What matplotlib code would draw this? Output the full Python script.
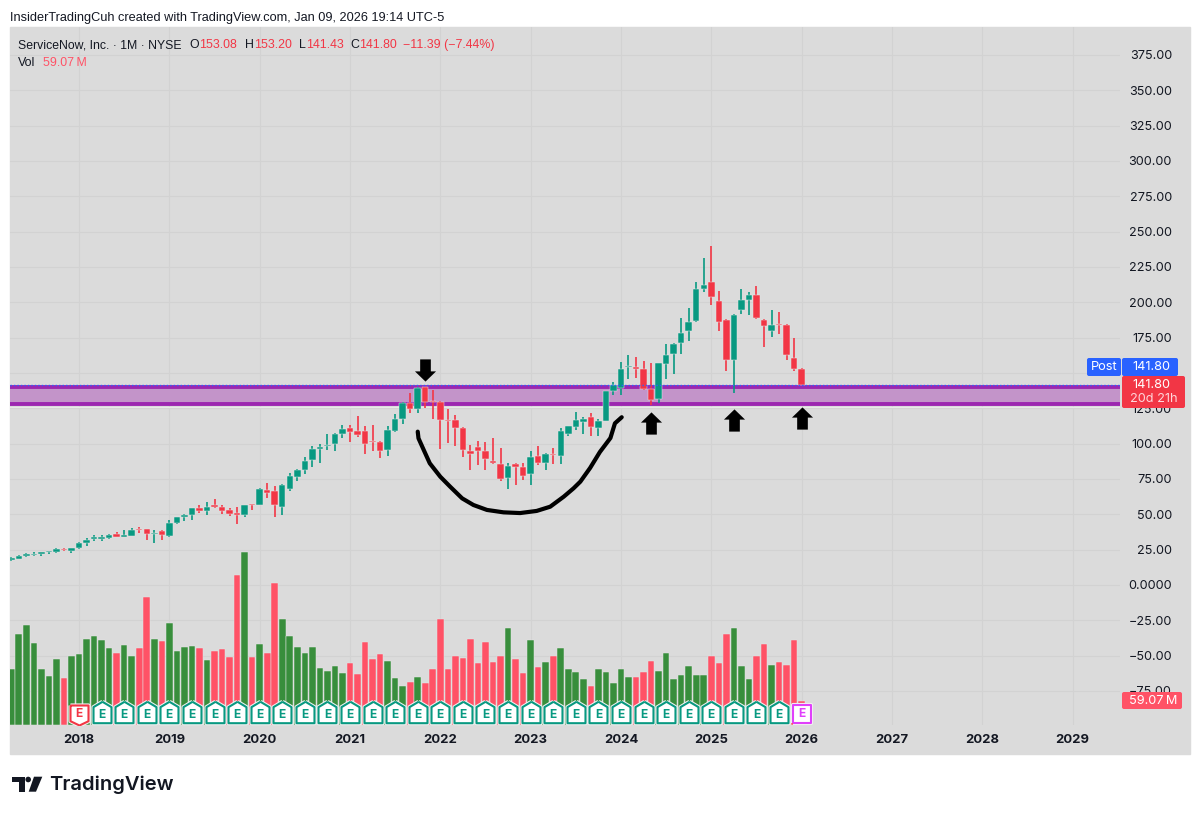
import numpy as np
import matplotlib
matplotlib.use("Agg")
import matplotlib.pyplot as plt
from matplotlib.patches import Rectangle, FancyBboxPatch, Polygon, Circle
from matplotlib.path import Path

plt.rcParams['font.family'] = ['Inter', 'DejaVu Sans']

# Monthly candles, Apr 2017 to Jan 2026
opens = [17.4, 18.4, 20.8, 21.2, 21.9, 23.1, 23.3, 25.5, 24.3, 26.0, 30.0, 32.5, 32.8, 33.0, 36.1, 34.2, 34.9, 39.4,
         39.4, 36.3, 38.4, 34.7, 43.6, 48.3, 49.8, 54.5, 52.4, 56.4, 55.2, 52.8, 50.7, 49.5, 57.1, 56.8, 67.2, 66.7,
         55.0, 67.9, 76.6, 81.1, 88.4, 96.5, 98.1, 99.5, 107.1, 111.3, 109.0, 108.7, 101.9, 101.2, 95.3, 109.0, 117.2,
         129.0, 124.5, 139.9, 130.4, 129.5, 117.0, 116.5, 111.3, 94.6, 97.9, 94.8, 87.5, 85.6, 75.7, 85.4, 83.3, 78.8,
         91.0, 86.3, 92.7, 91.0, 106.8, 111.8, 115.3, 118.6, 110.8, 116.0, 137.0, 139.1, 154.0, 154.2, 152.6, 138.7,
         131.8, 156.6, 163.4, 171.0, 179.7, 187.0, 209.4, 214.4, 201.2, 187.3, 159.4, 194.6, 201.4, 205.2, 187.3,
         180.0, 184.4, 184.2, 160.4, 153.08]
highs = [19.6, 21.0, 22.4, 23.1, 23.6, 24.0, 26.0, 26.0, 26.4, 30.2, 33.0, 35.4, 35.1, 36.3, 37.5, 38.9, 40.1, 41.3,
         39.6, 38.7, 38.7, 45.8, 48.3, 50.5, 54.7, 56.4, 58.7, 60.8, 56.4, 54.5, 55.4, 56.6, 57.6, 68.4, 72.4, 70.0,
         71.5, 79.0, 81.8, 90.3, 98.6, 100.0, 106.6, 107.6, 113.4, 113.2, 119.6, 112.5, 113.2, 101.6, 112.5, 121.0,
         129.5, 135.9, 139.9, 140.3, 138.0, 130.2, 124.3, 120.3, 111.6, 99.1, 101.9, 101.2, 104.0, 96.7, 86.3, 86.3,
         86.6, 95.0, 98.6, 93.2, 96.9, 111.3, 112.5, 122.6, 119.1, 121.7, 117.2, 137.5, 143.6, 157.5, 162.7, 161.6,
         158.7, 156.8, 157.3, 170.3, 171.5, 188.9, 195.8, 214.4, 231.4, 239.6, 208.3, 188.0, 192.0, 209.2, 207.3,
         211.3, 188.0, 194.6, 192.9, 184.7, 175.0, 153.20]
lows = [16.7, 18.2, 20.0, 20.5, 20.7, 22.2, 22.9, 24.0, 22.9, 25.7, 27.6, 31.1, 31.1, 32.8, 33.7, 34.0, 34.7, 36.8,
        31.6, 29.7, 31.6, 34.0, 43.4, 45.5, 46.2, 51.2, 49.5, 54.2, 50.0, 49.1, 42.9, 48.1, 53.1, 56.6, 61.6, 47.9,
        49.5, 66.7, 73.3, 78.3, 83.7, 86.5, 95.5, 94.6, 104.0, 101.4, 104.5, 92.7, 94.8, 89.9, 91.5, 108.0, 113.7,
        121.5, 122.0, 125.0, 117.7, 96.0, 100.7, 98.4, 90.8, 81.4, 84.7, 81.6, 85.8, 73.8, 67.7, 70.5, 74.3, 71.0,
        84.9, 81.4, 85.8, 85.8, 105.4, 109.7, 106.8, 105.7, 105.7, 115.8, 134.7, 134.2, 146.0, 146.2, 138.0, 127.3,
        129.0, 146.0, 149.3, 163.7, 172.6, 186.1, 207.5, 198.1, 179.5, 151.6, 135.8, 191.8, 191.3, 188.0, 168.2,
        175.7, 177.4, 159.2, 151.2, 141.43]
closes = [18.9, 20.8, 21.9, 22.2, 23.1, 23.8, 25.2, 24.5, 26.0, 30.0, 31.8, 33.7, 33.7, 35.6, 34.2, 35.1, 39.1, 38.7,
          36.3, 37.0, 35.4, 43.6, 47.9, 49.3, 54.2, 52.1, 55.0, 55.0, 52.6, 50.5, 49.5, 56.4, 56.4, 67.7, 65.1, 56.8,
          71.0, 77.4, 81.1, 87.7, 96.2, 97.4, 99.3, 107.1, 110.1, 108.5, 106.4, 99.8, 101.4, 94.8, 109.9, 117.2, 128.8,
          124.5, 139.6, 129.2, 129.7, 117.0, 115.8, 111.1, 95.3, 92.9, 95.0, 89.2, 86.3, 75.2, 84.0, 83.3, 77.4, 90.6,
          86.3, 92.9, 92.2, 108.7, 112.3, 116.5, 117.7, 111.5, 116.3, 137.0, 141.3, 152.6, 154.9, 152.6, 138.4, 131.1,
          156.8, 162.7, 170.8, 178.5, 186.3, 209.7, 212.0, 203.5, 185.8, 159.4, 190.8, 201.9, 205.4, 188.7, 183.3,
          183.7, 183.7, 162.5, 153.1, 141.80]
volumes = [137, 225, 245, 203, 137, 120, 163, 116, 170, 174, 212, 219, 209, 190, 176, 198, 171, 190, 314, 212, 207,
           251, 182, 193, 195, 190, 160, 182, 187, 168, 368, 427, 168, 199, 178, 349, 262, 218, 192, 178, 192, 140,
           132, 146, 128, 152, 125, 204, 163, 175, 158, 116, 96, 107, 119, 103, 137, 260, 137, 171, 165, 211, 152,
           204, 155, 171, 238, 162, 128, 208, 142, 154, 169, 190, 138, 130, 114, 95, 138, 130, 104, 137, 119, 119,
           130, 157, 132, 177, 112, 123, 145, 122, 123, 171, 152, 223, 238, 145, 112, 169, 199, 147, 154, 147, 208,
           59.07]

year_labels = ['2018', '2019', '2020', '2021', '2022', '2023', '2024', '2025', '2026', '2027', '2028', '2029']
year_idx = [9 + 12 * k for k in range(len(year_labels))]
price_ticks = [375, 350, 325, 300, 275, 250, 225, 200, 175, 150, 125, 100, 75, 50, 25, 0, -25, -50, -75]
earn_idx = list(range(12, 103, 3))
zone_low, zone_high = 128.0, 140.1
last_price = 141.80

# Hand drawn marks, (month index, price)
arrow_down_idx, arrow_down_price = [55], [151.8]
arrow_up_idx = [85, 96, 105]
arrow_up_price = [114.6, 116.7, 118.2]
curve_idx = [54.0, 54.1, 54.8, 55.6, 57.0, 58.3, 59.9, 61.4, 63.2, 65.4, 67.6, 69.8, 71.6, 73.4, 74.7, 75.6, 76.9,
             78.2, 79.6, 80.2, 81.1]
curve_price = [108.5, 103.8, 95.5, 86.1, 76.6, 69.6, 61.3, 56.6, 53.1, 51.4, 50.9, 52.4, 55.4, 62.5, 68.4, 73.1,
               82.8, 94.1, 104.0, 114.4, 118.7]

GREEN = '#089981'
RED = '#f23645'
VOL_GREEN = '#388e3c'
VOL_RED = '#ff5266'
PURPLE = '#9c27b0'
GRID = '#d2d2d2'
INK = '#131722'
GREY = '#dbdbdb'
HEAD_FONT = ['Liberation Sans', 'DejaVu Sans']

W, H = 1200, 815
fig = plt.figure(figsize=(W / 100, H / 100), dpi=100, facecolor='white')
fig.add_artist(Rectangle((10 / W, 1 - 754 / H), 1180 / W, 727 / H, transform=fig.transFigure, color=GREY, zorder=0))

rect = [10 / W, 1 - 725 / H, 1110 / W, 698 / H]
ax = fig.add_axes(rect, zorder=1)
ax.patch.set_visible(False)
vax = fig.add_axes(rect, zorder=2, sharex=ax)
vax.patch.set_visible(False)

x = np.arange(len(opens))
o, h, l, c = map(np.array, (opens, highs, lows, closes))
up = c >= o
colors = np.where(up, GREEN, RED)

ax.set_xlim(-0.17, 147.3)
ax.set_ylim(-99.06, 394.8)
ax.grid(True, color=GRID, lw=0.8)
ax.set_axisbelow(True)
for s in ax.spines.values():
    s.set_visible(False)
ax.set_xticks(year_idx)
ax.set_xticklabels(year_labels, fontweight='bold', fontsize=9.4, color=INK)
ax.set_yticks(price_ticks)
# the 150 label sits behind the last price boxes
price_labels = ['' if p == 150 else ('0.0000' if p == 0 else f'{p:.2f}'.replace('-', '\u2212')) for p in price_ticks]
ax.set_yticklabels(price_labels, fontsize=9.1, color=INK)
ax.yaxis.tick_right()
ax.tick_params(axis='y', length=0, pad=37.4)
ax.tick_params(axis='x', length=0, pad=6.5)
for t in ax.get_yticklabels():
    t.set_horizontalalignment('right')

# band behind the candles
ax.axhspan(zone_low, zone_high, color='#c394c9', lw=0, zorder=1.5)
ax.axhline(zone_high, color=PURPLE, lw=2.8, zorder=1.6)
ax.axhline(zone_low, color=PURPLE, lw=2.8, zorder=1.6)
ax.axhline(zone_low - 2.0, color='#e9e9e9', lw=0.8, zorder=1.6)
ax.vlines(x, l, h, colors=colors, lw=1.2, zorder=2)
ax.bar(x, c - o, bottom=o, width=0.86, color=colors, edgecolor='#e6e6e6', lw=0.35, zorder=3)
ax.axhline(last_price, color='#2962ff', lw=1.0, ls=(0, (1, 1.5)), zorder=4)

ax.plot(curve_idx, curve_price, color='black', lw=3.0, solid_capstyle='round', solid_joinstyle='round', zorder=6)
up_arrow = Path([(0, 1), (0.95, 0.08), (0.48, 0.08), (0.48, -1), (-0.48, -1), (-0.48, 0.08), (-0.95, 0.08), (0, 1)])
down_arrow = Path([(0, -1), (0.95, -0.08), (0.48, -0.08), (0.48, 1), (-0.48, 1), (-0.48, -0.08), (-0.95, -0.08), (0, -1)])
ax.plot(arrow_up_idx, arrow_up_price, ls='', marker=up_arrow, ms=16, color='black', mew=0, zorder=6)
ax.plot(arrow_down_idx, arrow_down_price, ls='', marker=down_arrow, ms=16, color='black', mew=0, zorder=6)

# volume pane
vax.set_ylim(0, 698 * 59.07 / 24)
vax.axis('off')
vax.bar(x, volumes, width=0.88, color=np.where(up, VOL_GREEN, VOL_RED), edgecolor='#e6e6e6', lw=0.35)

# earnings flags, white halo then coloured outline
HOUSE_Y, SHIELD_Y, SQUARE_Y, E_Y = 30.8, 25.8, 28.0, 25.0
house = Path([(0, 1), (0.84, 0.5), (0.84, -1), (-0.84, -1), (-0.84, 0.5), (0, 1)])
shield = Path([(-0.9, 1), (0.9, 1), (0.9, -0.57), (0, -1), (-0.9, -0.57), (-0.9, 1)])
square = Path([(-1, -1), (1, -1), (1, 1), (-1, 1), (-1, -1)])
for mec, mew, z in [('#f2f2f2', 3.0, 4), (None, 1.5, 5)]:
    vax.plot(earn_idx, [HOUSE_Y] * len(earn_idx), ls='', marker=house, ms=15.4, mfc='white', mec=mec or GREEN, mew=mew, zorder=z)
    vax.plot([9], [SHIELD_Y], ls='', marker=shield, ms=14.4, mfc='white', mec=mec or RED, mew=mew, zorder=z)
    vax.plot([105], [SQUARE_Y], ls='', marker=square, ms=12.5, mfc='white', mec=mec or '#e040fb', mew=mew, zorder=z)
for i in earn_idx + [9, 105]:
    col = RED if i == 9 else ('#e040fb' if i == 105 else GREEN)
    vax.text(i, E_Y + 3 if i in (9, 105) else E_Y, 'E', color=col, fontsize=8.6, fontweight='bold', ha='center', va='center', zorder=6)

# page furniture in pixel coordinates
top = fig.add_axes([0, 0, 1, 1], zorder=5)
top.set_xlim(0, W)
top.set_ylim(H, 0)
top.axis('off')


def txt(px, py, s, color=INK, size=9.4, **kw):
    top.text(px, py, s, color=color, fontsize=size, va='center', **kw)


def box(x0, y0, x1, y1, color):
    top.add_patch(FancyBboxPatch((x0 + 1, y0 + 1), x1 - x0 - 2, y1 - y0 - 2, boxstyle='round,pad=1,rounding_size=2',
                                 fc=color, ec='none'))


txt(10, 18, 'InsiderTradingCuh created with TradingView.com, Jan 09, 2026 19:14 UTC-5', size=9.2, family=HEAD_FONT)
txt(18, 45, 'ServiceNow, Inc. \u00b7 1M \u00b7 NYSE', size=8.8, family=HEAD_FONT)
for px, s in [(189, 'O'), (245, 'H'), (299, 'L'), (350, 'C'), (18, 'Vol')]:
    txt(px, 63 if s == 'Vol' else 45, s, size=8.9, family=HEAD_FONT)
for px, s in [(199, '153.08'), (254, '153.20'), (306, '141.43'), (359, '141.80'), (403, '\u221211.39 (\u22127.44%)')]:
    txt(px, 45, s, color=RED, size=8.9, family=HEAD_FONT)
txt(43, 63, '59.07\u2009M', color='#ff5266', size=8.9, family=HEAD_FONT)

box(1087, 358, 1121, 376, '#2962ff')
box(1122, 358, 1178, 376, '#2962ff')
box(1122, 376, 1185, 408, RED)
box(1122, 692, 1182, 709, VOL_RED)
txt(1104, 367, 'Post', color='white', ha='center', size=9.2)
txt(1151, 367, '141.80', color='white', ha='center', size=9.2)
txt(1151, 385, '141.80', color='white', ha='center', size=9.2)
txt(1154, 399, '20d 21h', color='#ffd5da', ha='center', size=9.2)
txt(1153, 700.5, '59.07\u2009M', color='white', ha='center', size=9.2)

# TradingView logo
logo = '#131722'
top.add_patch(Polygon([(12, 776.7), (24.7, 776.7), (24.7, 791.7), (18.7, 791.7), (18.7, 782), (12, 782)], fc=logo, ec='none'))
top.add_patch(Circle((28.2, 779.5), 2.8, fc=logo, ec='none'))
top.add_patch(Polygon([(34, 776.7), (42.3, 776.7), (36, 791.7), (28.7, 791.7)], fc=logo, ec='none'))
txt(49.5, 784.5, 'TradingView', color=logo, size=14.5, fontweight='semibold')

fig.savefig('out.png', dpi=100)
